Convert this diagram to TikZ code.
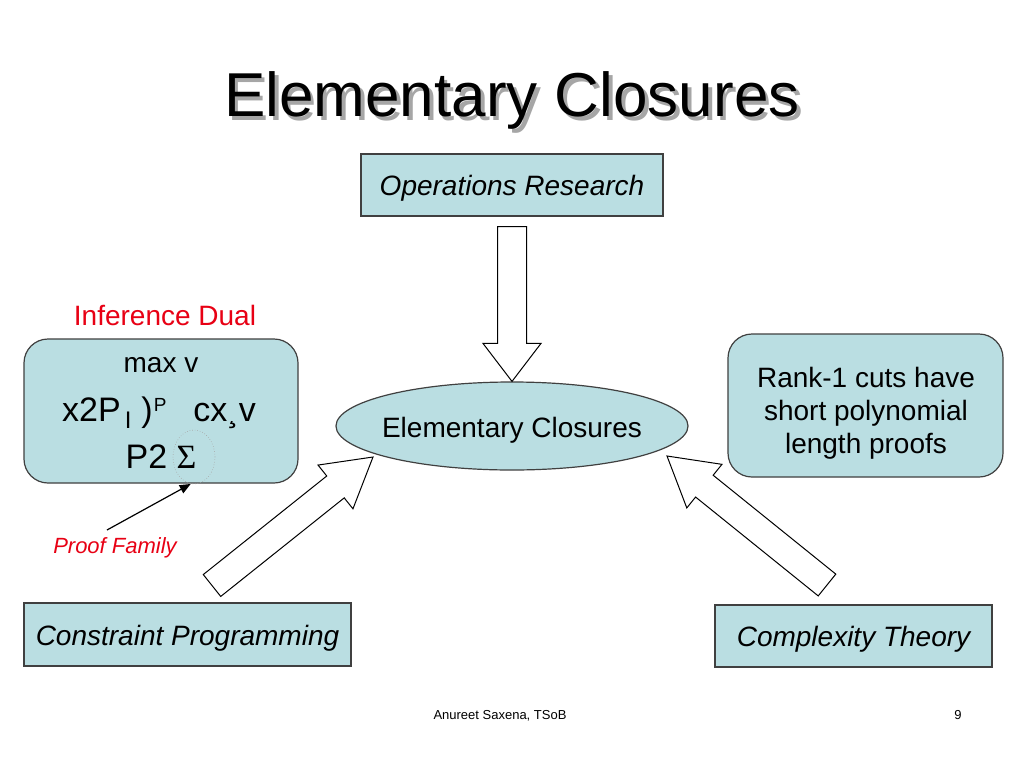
\documentclass[tikz,border=0pt]{standalone}
\usepackage{fontspec}
\setmainfont{Liberation Sans}
\newfontfamily\seriffont{Liberation Serif}
\usetikzlibrary{calc,shapes.geometric,arrows.meta}
\definecolor{boxfill}{RGB}{186,222,226}
\definecolor{redtext}{RGB}{232,0,20}
\newcommand\blkarrow[5]{% tail, tip, shaft half width, head half width, head length
  \coordinate (ba-n) at ($(#2)!#5!(#1)$);
  \draw[blockarr] ($(#1)!#3!90:(#2)$) -- ($(ba-n)!#3!90:(#2)$) -- ($(ba-n)!#4!90:(#2)$)
    -- (#2) -- ($(ba-n)!#4!-90:(#2)$) -- ($(ba-n)!#3!-90:(#2)$) -- ($(#1)!#3!-90:(#2)$) -- cycle;}
\begin{document}
\begin{tikzpicture}[x=1pt,y=-1pt,
  box/.style={draw=black!75, line width=1.2pt, fill=boxfill, inner sep=0pt},
  rbox/.style={box, rounded corners=24pt},
  blockarr/.style={draw=black, line width=1pt, fill=white, line join=miter},
  lbl/.style={anchor=base, inner sep=0pt, font=\fontsize{28}{33}\selectfont},
  ilbl/.style={lbl, font=\fontsize{28}{33}\selectfont\itshape}]
\useasboundingbox[fill=white] (0,0) rectangle (1024,768);

% title
\node[anchor=base, inner sep=0pt, text=black!35, font=\fontsize{62}{62}\selectfont] (titlesh) at (515.5,120) {Elementary Closures};
\node[anchor=base, inner sep=0pt, font=\fontsize{62}{62}\selectfont] (title) at (512,116.5) {Elementary Closures};

% boxes
\node[box, minimum width=302pt, minimum height=62pt] (or) at (512,185) {};
\node[ilbl] (ortext) at (512,195) {Operations Research};

\node[box, ellipse, minimum width=352pt, minimum height=88pt] (ell) at (512,426) {};
\node[lbl] (elltext) at (512,437) {Elementary Closures};

\node[rbox, minimum width=274pt, minimum height=144pt] (dual) at (161,411) {};
\node[lbl, text=redtext] (duallabel) at (165,325) {Inference Dual};
\node[lbl] (l1) at (161,372) {max v};
\node[anchor=base west, inner sep=0pt, font=\fontsize{34}{34}\selectfont] (l2) at (62,421.7)
  {x2P\hspace{4pt}\raisebox{-6.5pt}{\fontsize{24}{24}\selectfont I}\hspace{10pt})\hspace{1pt}\raisebox{10pt}{\fontsize{19}{19}\selectfont P}\hspace{27pt}cx¸v};
\node[lbl, font=\fontsize{34}{34}\selectfont] (l3) at (161,468) {P2 {\seriffont Σ}};
\node[draw=black!35, dotted, line width=0.6pt, ellipse, minimum width=42pt, minimum height=54pt, inner sep=0pt] (sigc) at (194,457) {};

\node[rbox, minimum width=275pt, minimum height=143pt] (rank) at (865.5,405.5) {};
\node[lbl, align=center] (ranktext) at (866,453) {Rank-1 cuts have\\short polynomial\\length proofs};

\node[box, minimum width=327pt, minimum height=63pt] (cp) at (187.5,634.5) {};
\node[ilbl] (cptext) at (187.5,645) {Constraint Programming};

\node[box, minimum width=277pt, minimum height=62pt] (ct) at (853.5,636) {};
\node[ilbl] (cttext) at (853.5,646) {Complexity Theory};

% proof family
\node[anchor=base, inner sep=0pt, text=redtext, font=\fontsize{22}{22}\selectfont\itshape] (pf) at (115,553) {Proof Family};
\coordinate (pfstart) at (107,530);
\draw[line width=1.2pt, -{Triangle[length=11pt,width=9pt]}] (pfstart) -- (sigc.263);

% block arrows
\coordinate (downtail) at ($(or.south)+(0,10)$);
\blkarrow{downtail}{ell.north}{14.5pt}{29pt}{38pt}
\coordinate (lefttail) at (212,585.5);
\coordinate (lefttip) at (373,457);
\blkarrow{lefttail}{lefttip}{14pt}{28pt}{48pt}
\coordinate (righttail) at (827,585);
\coordinate (righttip) at (667,456);
\blkarrow{righttail}{righttip}{14pt}{28pt}{48pt}

% footer
\node[anchor=base, inner sep=0pt, font=\fontsize{13}{13}\selectfont] (footer) at (500,719) {Anureet Saxena, TSoB};
\node[anchor=base, inner sep=0pt, font=\fontsize{13}{13}\selectfont] (page) at (958,719) {9};
\end{tikzpicture}
\end{document}
